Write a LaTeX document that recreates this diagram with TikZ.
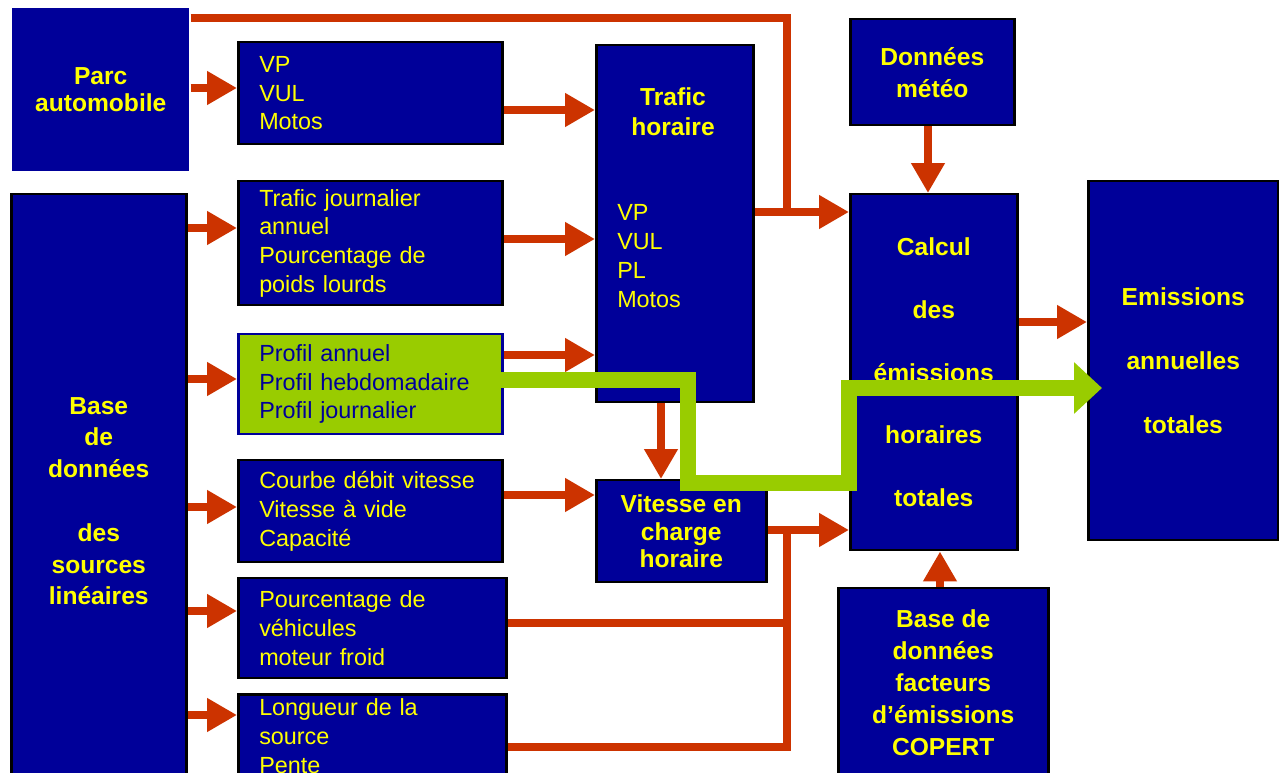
\documentclass[tikz,border=0pt]{standalone}
\usepackage{fontspec}
\setmainfont{Liberation Sans}
\usetikzlibrary{arrows.meta,positioning}
\definecolor{navy}{RGB}{0,0,153}
\definecolor{jaune}{RGB}{255,255,0}
\definecolor{rouge}{RGB}{204,51,0}
\definecolor{vert}{RGB}{153,204,0}
\newcommand{\px}{0.02cm}

\tikzset{
  bloc/.style={shape=rectangle, fill=navy, draw=black, line width=2.5*\px, text=jaune,
    inner sep=0pt, anchor=north west},
  titre/.style={bloc, align=center, font=\bfseries\fontsize{14}{18.1}\selectfont},
  liste/.style={bloc, align=left, inner xsep=21*\px, font=\fontsize{13.3}{16.4}\selectfont},
  fleche/.style={draw=rouge, line width=8*\px, -{Triangle[length=0.6cm, width=0.64cm]}},
  ligne/.style={draw=rouge, line width=8*\px},
  chemin/.style={draw=vert, line width=16*\px, -{Triangle[length=0.56cm, width=1.0cm]}},
}

\begin{document}
\begin{tikzpicture}[x=\px, y=-\px]
  \useasboundingbox (0,0) rectangle (1279,773);

  % blocs de gauche
  \node[titre, draw=none, minimum width=177*\px, minimum height=163*\px,
        font=\bfseries\fontsize{14}{15.3}\selectfont] (parc) at (11,7) {Parc\\automobile};
  \node[titre, minimum width=175*\px, minimum height=614*\px] (base) at (10,193)
        {Base\\de\\données\\[18.1pt]des\\sources\\linéaires};

  % donnees d'entree
  \node[liste, text width=222*\px, minimum height=102*\px] (vp) at (237,41) {VP\\VUL\\Motos};
  \node[liste, text width=222*\px, minimum height=124*\px] (tj) at (237,180)
        {Trafic journalier\\annuel\\Pourcentage de\\poids lourds};
  \node[liste, text width=222*\px, minimum height=100*\px, fill=vert, draw=navy, text=navy,
        font=\fontsize{13.3}{16.2}\selectfont] (profil) at (237,333)
        {Profil annuel\\Profil hebdomadaire\\Profil journalier};
  \node[liste, text width=222*\px, minimum height=102*\px] (courbe) at (237,459)
        {Courbe débit vitesse\\Vitesse à vide\\Capacité};
  \node[liste, text width=226*\px, minimum height=100*\px] (froid) at (237,577)
        {Pourcentage de\\véhicules\\moteur froid};
  \node[liste, text width=226*\px, minimum height=84*\px] (longueur) at (237,693)
        {Longueur de la\\source\\Pente};

  % trafic horaire
  \node[bloc, minimum width=157*\px, minimum height=357*\px] (th) at (595,44) {};
  \node[titre, fill=none, draw=none, anchor=center, font=\bfseries\fontsize{14}{17}\selectfont]
        (thtitre) at (673,112) {Trafic\\horaire};
  \node[liste, fill=none, draw=none, inner xsep=0pt, anchor=west] (thliste) at (616,256)
        {VP\\VUL\\PL\\Motos};
  \node[titre, minimum width=170*\px, minimum height=102*\px,
        font=\bfseries\fontsize{14}{15.6}\selectfont] (vitesse) at (595,479)
        {Vitesse en\\charge\\horaire};

  % calcul
  \node[titre, minimum width=164*\px, minimum height=106*\px] (meteo) at (849,18) {Données\\météo};
  \node[titre, minimum width=167*\px, minimum height=356*\px,
        font=\bfseries\fontsize{14}{35.7}\selectfont] (calcul) at (849,193)
        {Calcul\\des\\émissions\\horaires\\totales};
  \node[titre, minimum width=210*\px, minimum height=189*\px] (copert) at (837,587)
        {Base de\\données\\facteurs\\d’émissions\\COPERT};
  \node[titre, minimum width=190*\px, minimum height=359*\px,
        font=\bfseries\fontsize{14}{36.3}\selectfont] (emis) at (1087,180)
        {Emissions\\annuelles\\totales};

  \coordinate (j1) at (787,212);
  \coordinate (j2) at (787,530);

  % fleches
  \draw[fleche] (parc.east |- 0,88) -- (vp.west |- 0,88);
  \draw[ligne] (parc.east |- 0,18) -| (j1);
  \draw[fleche] (base.east |- 0,228) -- (tj.west |- 0,228);
  \draw[fleche] (base.east |- 0,379) -- (profil.west |- 0,379);
  \draw[fleche] (base.east |- 0,507) -- (courbe.west |- 0,507);
  \draw[fleche] (base.east |- 0,611) -- (froid.west |- 0,611);
  \draw[fleche] (base.east |- 0,715) -- (longueur.west |- 0,715);
  \draw[fleche] (vp.east |- 0,110) -- (th.west |- 0,110);
  \draw[fleche] (tj.east |- 0,239) -- (th.west |- 0,239);
  \draw[fleche] (profil.east |- 0,355) -- (th.west |- 0,355);
  \draw[fleche] (courbe.east |- 0,495) -- (vitesse.west |- 0,495);
  \draw[fleche] (th.south -| 661,0) -- (vitesse.north -| 661,0);
  \draw[fleche] (th.east |- j1) -- (calcul.west |- j1);
  \draw[fleche] (vitesse.east |- j2) -- (calcul.west |- j2);
  \draw[ligne] (froid.east |- 0,623) -- (j2 |- 0,623);
  \draw[ligne] (longueur.east |- 0,747) -| (j2);
  \draw[fleche] (meteo.south -| 928,0) -- (calcul.north -| 928,0);
  \draw[fleche] (copert.north -| 940,0) -- (calcul.south -| 940,0);
  \draw[fleche] (calcul.east |- 0,322) -- (emis.west |- 0,322);

  % chemin vert
  \draw[chemin, shorten <=-0.2cm, shorten >=-0.3cm] (profil.east |- 0,380) -- (688,380)
       -- (688,483) -- (849,483) -- (849,388) -- (emis.west |- 0,388);
\end{tikzpicture}
\end{document}
